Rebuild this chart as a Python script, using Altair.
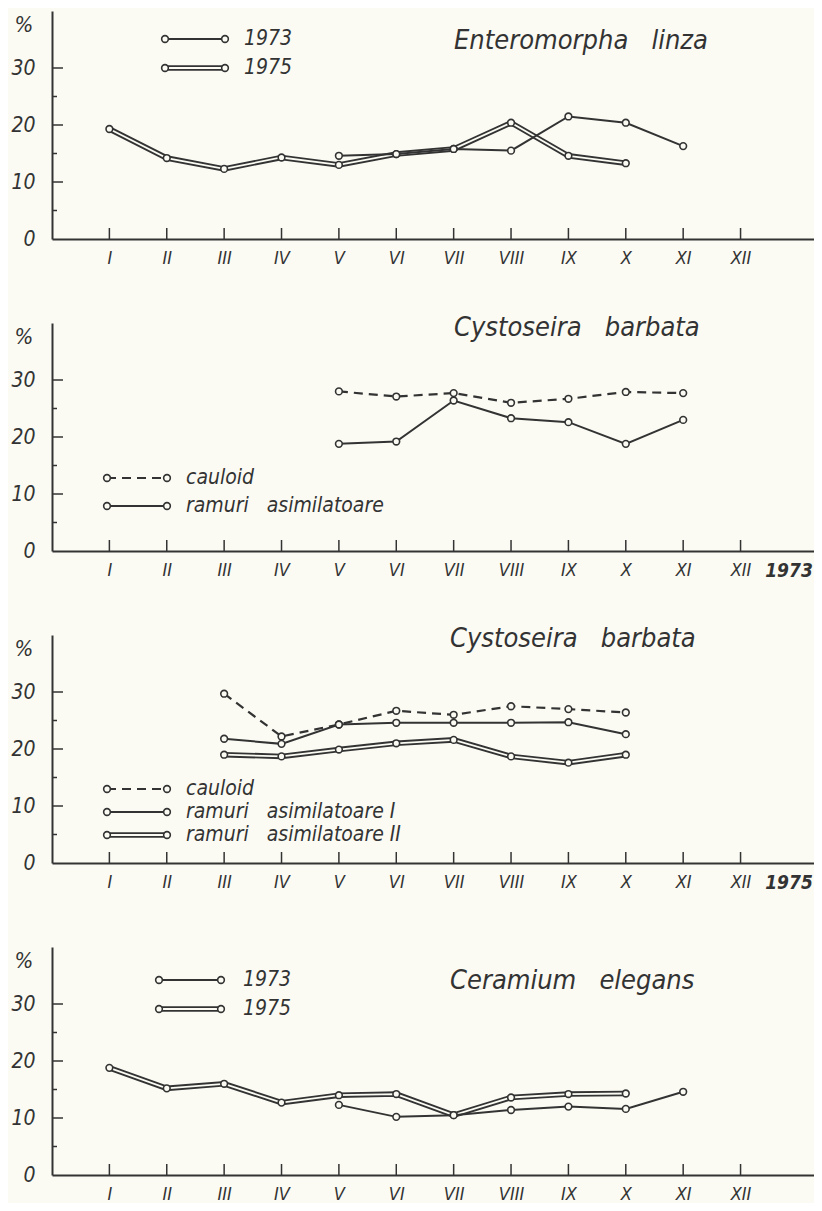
import altair as alt
import pandas as pd

# ---------------- data ----------------
months = list(range(1, 13))
roman = ["I", "II", "III", "IV", "V", "VI", "VII", "VIII", "IX", "X", "XI", "XII"]
y_major = [10, 20, 30]
y_minor = [5, 15, 25]
y_labels = [0, 10, 20, 30]

# Panel 1: Enteromorpha linza
ent73_months = [5, 6, 7, 8, 9, 10, 11]
ent73_values = [14.6, 14.9, 15.8, 15.5, 21.5, 20.4, 16.3]
ent75_months = [1, 2, 3, 4, 5, 6, 7, 8, 9, 10]
ent75_values = [19.3, 14.2, 12.3, 14.3, 13.0, 14.9, 15.8, 20.4, 14.6, 13.3]

# Panel 2: Cystoseira barbata 1973
cb73_months = [5, 6, 7, 8, 9, 10, 11]
cb73_cauloid = [28.0, 27.1, 27.7, 26.0, 26.7, 27.9, 27.7]
cb73_ramuri = [18.8, 19.2, 26.4, 23.3, 22.6, 18.8, 23.0]

# Panel 3: Cystoseira barbata 1975
cb75_months = [3, 4, 5, 6, 7, 8, 9, 10]
cb75_cauloid = [29.7, 22.2, 24.3, 26.7, 26.0, 27.5, 27.0, 26.4]
cb75_ramuri1 = [21.8, 20.9, 24.3, 24.6, 24.6, 24.6, 24.7, 22.6]
cb75_ramuri2 = [19.0, 18.7, 19.9, 21.0, 21.6, 18.7, 17.6, 19.0]

# Panel 4: Ceramium elegans
cer73_months = [5, 6, 7, 8, 9, 10, 11]
cer73_values = [12.3, 10.2, 10.5, 11.4, 12.0, 11.6, 14.6]
cer75_months = [1, 2, 3, 4, 5, 6, 7, 8, 9, 10]
cer75_values = [18.8, 15.2, 16.0, 12.7, 14.0, 14.2, 10.5, 13.6, 14.2, 14.3]

# ---------------- style ----------------
W, H = 762, 228
XDOM = [0, 13.28]
YDOM = [0, 40]
INK = "#333333"
BG = "#fbfbf4"
FONT = "DejaVu Sans Condensed, DejaVu Sans, sans-serif"
LEG_FS = 21

xscale = alt.Scale(domain=XDOM, nice=False, zero=False)
yscale = alt.Scale(domain=YDOM, nice=False)
label_expr = "[''," + ",".join("'%s'" % r for r in roman) + "][datum.value]"
xaxis = alt.Axis(values=months, labelExpr=label_expr, ticks=False, grid=False,
                 title=None, labelPadding=10, labelFontSize=18, labelFont=FONT,
                 labelFontStyle="italic", labelColor=INK, domainColor=INK,
                 domainWidth=2, labelBaseline="top")
yaxis = alt.Axis(values=y_labels, ticks=False, grid=False, title=None,
                 labelPadding=17, labelFontSize=21, labelFont=FONT,
                 labelFontStyle="italic", labelColor=INK, domainColor=INK,
                 domainWidth=2)


def frame(names, month_lists, value_lists):
    rows = []
    for n, ms, vs in zip(names, month_lists, value_lists):
        for m, v in zip(ms, vs):
            rows.append({"series": n, "month": m, "value": v})
    return pd.DataFrame(rows)


def enc():
    return dict(x=alt.X("month:Q", scale=xscale, axis=xaxis),
                y=alt.Y("value:Q", scale=yscale, axis=yaxis))


def series_layers(df, style):
    base = alt.Chart(df)
    out = []
    if style == "double":
        out.append(base.mark_line(color=INK, strokeWidth=5.5).encode(detail="series:N", **enc()))
        out.append(base.mark_line(color=BG, strokeWidth=1.8).encode(detail="series:N", **enc()))
    elif style == "dashed":
        out.append(base.mark_line(color=INK, strokeWidth=2.2, strokeDash=[9, 6]).encode(detail="series:N", **enc()))
    else:
        out.append(base.mark_line(color=INK, strokeWidth=2).encode(detail="series:N", **enc()))
    out.append(base.mark_circle(fill=BG, stroke=INK, strokeWidth=1.6, size=45, opacity=1).encode(**enc()))
    return out


def tick_layers():
    maj = alt.Chart(pd.DataFrame({"value": y_major})).mark_rule(color=INK, strokeWidth=1.5).encode(
        y=alt.Y("value:Q", scale=yscale, axis=yaxis), x=alt.value(0), x2=alt.value(11))
    mnr = alt.Chart(pd.DataFrame({"value": y_minor})).mark_rule(color=INK, strokeWidth=1.5).encode(
        y=alt.Y("value:Q", scale=yscale, axis=yaxis), x=alt.value(0), x2=alt.value(5))
    xt = alt.Chart(pd.DataFrame({"month": months})).mark_rule(color=INK, strokeWidth=1.5).encode(
        x=alt.X("month:Q", scale=xscale, axis=xaxis), y=alt.value(H), y2=alt.value(H - 11))
    pct = alt.Chart(pd.DataFrame({"t": ["%"]})).mark_text(
        font=FONT, fontSize=22, fontStyle="italic", color=INK, align="center", baseline="middle"
    ).encode(x=alt.value(-28), y=alt.value(14), text="t:N")
    return [maj, mnr, xt, pct]


def legend_entry(x1, x2, y, tx, label, style):
    d = pd.DataFrame({"label": [label]})
    b = alt.Chart(d)
    out = []
    if style == "double":
        out.append(b.mark_rule(color=INK, strokeWidth=5.5).encode(x=alt.value(x1), x2=alt.value(x2), y=alt.value(y)))
        out.append(b.mark_rule(color=BG, strokeWidth=1.8).encode(x=alt.value(x1), x2=alt.value(x2), y=alt.value(y)))
    elif style == "dashed":
        out.append(b.mark_rule(color=INK, strokeWidth=2.2, strokeDash=[9, 6]).encode(x=alt.value(x1), x2=alt.value(x2), y=alt.value(y)))
    else:
        out.append(b.mark_rule(color=INK, strokeWidth=2).encode(x=alt.value(x1), x2=alt.value(x2), y=alt.value(y)))
    for xx in (x1, x2):
        out.append(b.mark_circle(fill=BG, stroke=INK, strokeWidth=1.6, size=45, opacity=1).encode(
            x=alt.value(xx), y=alt.value(y)))
    out.append(b.mark_text(font=FONT, fontSize=LEG_FS, fontStyle="italic", color=INK, align="left",
                           baseline="middle").encode(x=alt.value(tx), y=alt.value(y), text="label:N"))
    return out


def text_layer(txt, x, y, size=27, weight="normal", align="left"):
    return alt.Chart(pd.DataFrame({"t": [txt]})).mark_text(
        font=FONT, fontSize=size, fontStyle="italic", fontWeight=weight, color=INK,
        align=align, baseline="middle").encode(x=alt.value(x), y=alt.value(y), text="t:N")


SP = "\u00a0\u00a0\u00a0"

# Panel 1
p1_layers = tick_layers()
p1_layers += series_layers(frame(["1975"], [ent75_months], [ent75_values]), "double")
p1_layers += series_layers(frame(["1973"], [ent73_months], [ent73_values]), "single")
p1_layers += legend_entry(113, 173, 28, 192, "1973", "single")
p1_layers += legend_entry(113, 173, 57, 192, "1975", "double")
p1_layers.append(text_layer("Enteromorpha" + SP + "linza", 402, 30))
p1 = alt.layer(*p1_layers).properties(width=W, height=H)

# Panel 2
p2_layers = tick_layers()
p2_layers += series_layers(frame(["ramuri"], [cb73_months], [cb73_ramuri]), "single")
p2_layers += series_layers(frame(["cauloid"], [cb73_months], [cb73_cauloid]), "dashed")
p2_layers += legend_entry(55, 115, 155, 134, "cauloid", "dashed")
p2_layers += legend_entry(55, 115, 183, 134, "ramuri" + SP + "asimilatoare", "single")
p2_layers.append(text_layer("Cystoseira" + SP + "barbata", 402, 5))
p2_layers.append(text_layer("1973", W - 25, H + 20, size=19, weight="bold", align="center"))
p2 = alt.layer(*p2_layers).properties(width=W, height=H)

# Panel 3
p3_layers = tick_layers()
p3_layers += series_layers(frame(["ramuri II"], [cb75_months], [cb75_ramuri2]), "double")
p3_layers += series_layers(frame(["ramuri I"], [cb75_months], [cb75_ramuri1]), "single")
p3_layers += series_layers(frame(["cauloid"], [cb75_months], [cb75_cauloid]), "dashed")
p3_layers += legend_entry(55, 115, 154, 134, "cauloid", "dashed")
p3_layers += legend_entry(55, 115, 177, 134, "ramuri" + SP + "asimilatoare I", "single")
p3_layers += legend_entry(55, 115, 200, 134, "ramuri" + SP + "asimilatoare II", "double")
p3_layers.append(text_layer("Cystoseira" + SP + "barbata", 398, 4))
p3_layers.append(text_layer("1975", W - 25, H + 20, size=19, weight="bold", align="center"))
p3 = alt.layer(*p3_layers).properties(width=W, height=H)

# Panel 4
p4_layers = tick_layers()
p4_layers += series_layers(frame(["1975"], [cer75_months], [cer75_values]), "double")
p4_layers += series_layers(frame(["1973"], [cer73_months], [cer73_values]), "single")
p4_layers += legend_entry(107, 169, 33, 191, "1973", "single")
p4_layers += legend_entry(107, 169, 62, 191, "1975", "double")
p4_layers.append(text_layer("Ceramium" + SP + "elegans", 398, 34))
p4 = alt.layer(*p4_layers).properties(width=W, height=H)

chart = alt.vconcat(p1, p2, p3, p4, spacing=84, bounds="flush").properties(
    padding={"left": 2, "top": 3, "right": 0, "bottom": 0},
    background=BG,
).configure_view(stroke=None)

chart.save("out.html", embed_options={"renderer": "svg", "actions": False})
